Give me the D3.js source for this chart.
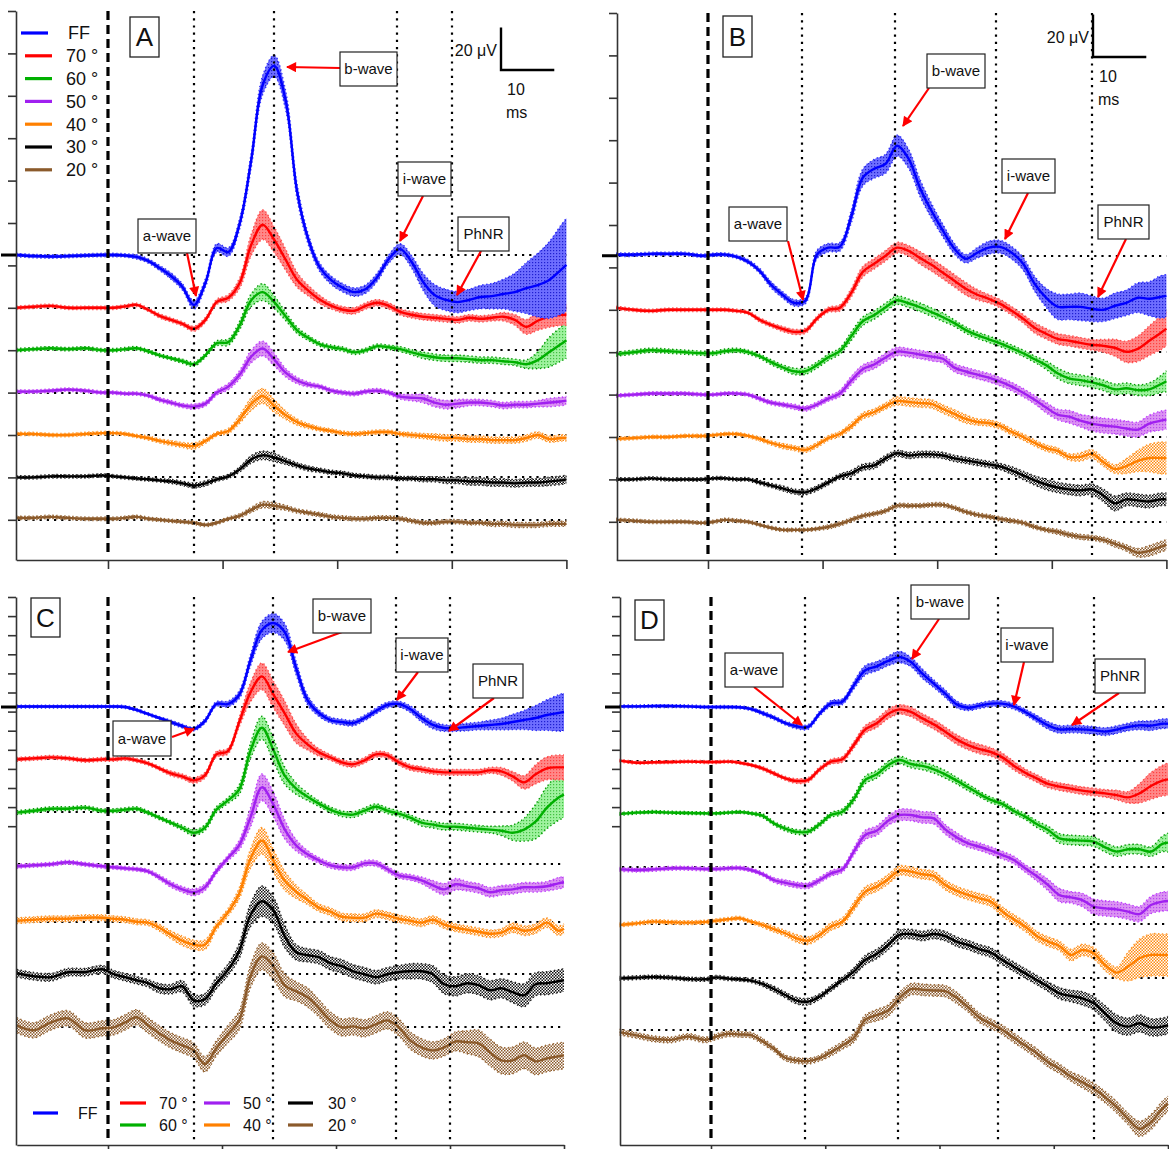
<!DOCTYPE html>
<html><head><meta charset="utf-8">
<script src="https://cdn.jsdelivr.net/npm/d3@7"></script>
<style>
html,body{margin:0;padding:0;background:#fff;}
svg{display:block;}
svg text{font-family:"Liberation Sans",Arial,Helvetica,sans-serif;fill:#111;}
</style></head><body>
<svg id="chart" width="1169" height="1149"></svg>
<script>
// ---------- shared axes / labels ----------
const time = [-16,-13,-10,-7,-4,-1,
  1,3,5,7,9,11,13,15,17,19,
  21,23,25,27,29,31,33,35,37,39,
  41,43,45,47,49,51,53,55,57,59,
  61,63,65,67,69,71,73,75,77,79,
  80];
const seriesNames = ["FF","70 °","60 °","50 °","40 °","30 °","20 °"];
const xTickValues = [0,20,40,60,80];
const yTickValues = [0,-20,-40,-60,-80,-100,-120,-140,-160,-180,-200,-220,-240];
const markerTimesAC = [15,29,50.5,60];
const markerTimesBD = [16.4,32.7,50.3,67];
const waveLabels = ["a-wave","b-wave","i-wave","PhNR"];
const panelLetters = ["A","B","C","D"];

// ---------- Panel A (µV) ----------
const aFF = [0,-0.5,-0.7,-0.5,-0.2,0,
 0,-0.2,-0.9,-2.8,-6.1,-9.9,-15.1,-23.6,-13.2,3.3,
 1.4,15,44.8,80.2,89.2,73,30,7,-6,-12,
 -15.5,-17.5,-16,-10.4,-1.9,2.8,-3.3,-12.7,-18.9,-21.2,
 -22.2,-21.2,-19.8,-19.4,-18.4,-17.5,-15.6,-14.2,-11.8,-7.1,
 -4.7];
const aFFse = [0.8,0.8,0.8,0.8,0.8,0.8,
 0.8,0.8,1,1,1.2,1.5,1.5,2,2,2,
 2,2.5,3.5,4.5,5,4.5,3.5,2.5,2,2,
 2,2,2,2,2,2.5,3,4,5,5,
 5,5,5.5,6,7,9,12,15,18,21,
 22];
const a70 = [0,0.5,0.9,0,0,0,
 0,0.7,1.4,-0.9,-3.8,-5.7,-7.6,-9.9,-5.7,2.8,
 4.7,11.8,29.7,39.2,32.1,22.7,13.2,8,3.8,0.9,
 -0.9,-1.4,0.9,2.4,0.9,-1.9,-3.3,-4.2,-4.7,-5.2,
 -5.7,-4.7,-5.2,-4.7,-4.2,-5.7,-9,-6.1,-4.2,-3.3,
 -3.3];
const a70se = [0.8,0.8,0.8,0.8,0.8,0.8,
 0.8,0.8,0.8,0.8,1,1,1,1.2,1.2,1.2,
 1.5,2.5,5,7,6,5,3.5,2.5,2,1.5,
 1.5,1.5,1.5,1.5,1.5,1.5,1.5,1.5,1.5,1.5,
 1.5,1.5,1.5,1.5,2,2.5,3.5,4.5,5,5,
 5];
const a60 = [0,0.5,0.9,0.5,0.9,0,
 0,0.5,0.9,-0.5,-2.4,-3.8,-5.2,-6.6,-2.4,3.3,
 3.8,11.8,23.6,27.4,22.7,16,9.4,5.7,2.8,1.4,
 0.5,-1,0,1.9,1.4,0.5,-1,-2.4,-3.3,-3.8,
 -3.8,-4.2,-4.7,-4.7,-5.2,-5.7,-6.6,-4.7,-0.9,2.8,
 4.7];
const a60se = [0.8,0.8,0.8,0.8,0.8,0.8,
 0.8,0.8,0.8,0.8,0.8,0.8,1,1,1,1.2,
 1.5,2,3,4,3,2,1.5,1.2,1,1,
 1,1,1,1,1,1.2,1.2,1.5,1.5,1.5,
 1.5,1.5,1.5,1.5,1.5,1.5,2,4,7,8,
 8.5];
const a50 = [0.5,0.5,0.9,1.4,0.9,0,
 0,-0.5,-0.5,-1.4,-3.3,-4.7,-6.1,-6.6,-5.2,0,
 2.8,8.5,17,20.8,15.6,9.4,5.7,3.8,2.8,0.9,
 0,-0.5,0.5,0.9,0,-1.9,-2.4,-2.8,-4.7,-5.7,
 -5.2,-4.7,-4.7,-5.2,-6.1,-5.7,-5.7,-5.2,-4.7,-4.2,
 -3.8];
const a50se = [0.8,0.8,0.8,0.8,0.8,0.8,
 0.8,0.8,0.8,0.8,1,1,1,1.2,1.2,1.2,
 1.5,2,3,3.5,3,2,1.5,1.2,1,1,
 1,1,1,1,1,1.2,1.5,2,2,2,
 2,1.5,1.5,1.5,1.5,1.5,1.5,1.5,2,2,
 2];
const a40 = [0.5,0.5,0,0,0.5,0.9,
 0.9,0.5,-0.5,-1.4,-2.8,-3.8,-4.7,-5.2,-2.8,0.5,
 1.9,7.5,14.6,18.4,13.7,9.4,6.1,4.2,2.8,1.9,
 0.9,0.5,0.9,1.4,1.4,0.5,0,-0.5,-0.9,-1.4,
 -1.4,-1.9,-1.9,-2.4,-2.4,-2.4,-1.4,0,-1.9,-1.4,
 -1.4];
const a40se = [0.8,0.8,0.8,0.8,0.8,0.8,
 0.8,0.8,0.8,1,1,1.2,1.2,1.5,1.2,1,
 1.2,2,3,3.5,3,2,1.5,1.2,1,1,
 1,1,1,1,1,1,1.2,1.2,1.5,1.5,
 1.5,1.5,1.5,1.5,1.5,1.5,1.5,1.5,1.5,1.5,
 1.5];
const a30 = [0,0,0.5,0.5,0.5,0.9,
 0.5,0,-0.5,-0.9,-1.4,-1.9,-2.8,-3.8,-2.8,-0.9,
 0.5,3.8,8.5,10.4,9.4,7.6,5.7,4.2,3.3,2.4,
 1.9,0.9,0.5,0,0,-0.5,-0.5,-0.9,-0.9,-1.4,
 -1.4,-1.9,-1.9,-2.4,-2.4,-2.8,-2.4,-2.4,-1.9,-1.4,
 -0.9];
const a30se = [0.8,0.8,0.8,0.8,0.8,0.8,
 0.8,0.8,0.8,0.8,0.8,1,1,1.2,1.2,1,
 1,1.2,1.8,2,2,1.5,1.2,1.2,1,1,
 1,1,1,1,1,1,1,1.2,1.2,1.5,
 1.5,1.8,1.8,1.8,1.8,1.8,1.8,1.8,2,2,
 2];
const a20 = [0.9,0.9,1.4,0.9,0.5,0.5,
 0.5,0.9,1.4,0.5,0,-0.5,-0.9,-1.4,-2.4,-1.4,
 0.5,1.9,4.7,7.1,6.6,5.7,4.2,3.3,2.4,1.4,
 0.9,0.5,0.5,0.9,0.9,0.5,-0.5,-1.4,-1.4,-0.9,
 -0.9,-1.4,-1.4,-1.9,-1.9,-2.4,-2.4,-2.4,-1.9,-1.9,
 -1.9];
const a20se = [0.8,0.8,0.8,0.8,0.8,0.8,
 0.8,0.8,0.8,0.8,0.8,0.8,0.8,0.8,0.8,0.8,
 0.8,1,1.2,1.5,1.5,1.2,1,1,1,1,
 1,1,1,1,1,1,1,1,1,1,
 1,1,1,1.2,1.2,1.2,1.2,1.2,1.2,1.2,
 1.2];

// ---------- Panel B (µV) ----------
const bFF = [0.5,0.5,0.9,0.9,0.9,0,
 0.5,0.5,-0.5,-2.8,-7.1,-13.7,-18.4,-22.2,-21.2,0.5,
 3.8,4.2,18.4,36.8,41,43.4,51.9,45.8,32,21.2,
 11.8,3.3,-1.4,1.4,3.8,4.2,1.4,-3.8,-13.2,-19.8,
 -24,-24.1,-24.1,-25,-25.5,-23.6,-22.2,-19.8,-20.3,-19.4,
 -18.9];
const bFFse = [0.8,0.8,0.8,0.8,0.8,0.8,
 0.8,0.8,0.8,1,1.2,1.5,1.5,1.5,1.5,2,
 2,2,3,4,4.5,4.5,5,4.5,4,3.5,
 3,2.5,2,2.5,3,3,3,3,3.5,4.5,
 6,6,6.5,6,5.5,6,6,7,8,10,
 10];
const b70 = [0.9,0,-0.5,0,0,0,
 0,0,-0.5,-1.4,-4.7,-7.1,-9,-10.4,-9.9,-4.2,
 0,0.9,8,17.9,21.7,25.5,29.3,27.8,24.5,21.2,
 17.5,13.7,9.9,7.1,5.2,2.8,-0.5,-4.2,-8.5,-11.3,
 -13.7,-14.6,-15.6,-16.5,-17,-17.9,-19.8,-18.4,-14.6,-10.9,
 -8.9];
const b70se = [0.8,0.8,0.8,0.8,0.8,0.8,
 0.8,0.8,0.8,0.8,1,1,1.2,1.2,1.2,1.2,
 1.2,1.5,2,2.5,2.5,2.5,2.5,2.5,3,3,
 3,3,3,2.5,2,2,2,2,2.5,2.5,
 2.5,2.5,2.5,2.5,3,4,5,6,7,8,
 8];
const b60 = [-0.9,0,0.9,0.5,0,-0.5,
 -0.5,0.5,0.9,0,-1.9,-4.7,-7.1,-9,-9,-6.1,
 -2.4,0.5,7.5,14.6,17.5,21.2,24.5,23.1,21.2,18.9,
 16.5,13.7,10.4,8,6.1,4.2,1.9,-0.5,-3.3,-6.1,
 -9.9,-12.3,-13.2,-14.2,-15.6,-17.5,-17,-17.9,-17.5,-15.1,
 -13.7];
const b60se = [1,1,1,1,1,1,
 1,1,1,1,1,1.2,1.2,1.5,1.5,1.5,
 1.5,1.5,2,2,2,2,2,2,2,2,
 2,1.5,1.5,1.5,1.5,1.5,1.5,1.5,1.5,2,
 2.5,2.5,2.5,2.5,2.5,2.5,2.5,2.5,3,4,
 5];
const b50 = [-0.5,0,0.5,0.5,0.5,0,
 0,0.5,0.5,0,-1.9,-3.8,-4.7,-5.7,-6.6,-4.7,
 -1.9,0.5,6.6,12,14.2,17.5,20.3,19.8,18.9,17.9,
 16.9,12.7,10.9,9.4,8,6.1,3.8,0.9,-2.4,-6.1,
 -9.4,-10.4,-12.3,-13.7,-14.6,-15.1,-16,-16.5,-13.7,-12.3,
 -11.8];
const b50se = [0.8,0.8,0.8,0.8,0.8,0.8,
 0.8,0.8,0.8,0.8,1,1,1,1.2,1.2,1.2,
 1.2,1.5,2,2,2,2,2,2,2,2,
 2,2,2,2,2,2,2,2,2,2.5,
 2.5,3,3,3.5,3.5,3.5,3.5,3.5,4,4.5,
 4.5];
const b40 = [-0.9,-0.5,0,0,0.5,0.5,
 0.9,1.4,1.4,0.5,-0.9,-2.8,-4.2,-5.2,-6.1,-3.8,
 -0.5,1.4,5.2,9.9,11.8,14.6,17,16.5,16,15.6,
 13.2,10.9,8.5,7.1,6.6,5.2,2.4,0,-2.8,-5.2,
 -6.6,-9.4,-9.4,-8,-11.8,-15.1,-13.7,-11.3,-9.9,-9.9,
 -9.9];
const b40se = [0.8,0.8,0.8,0.8,0.8,0.8,
 0.8,0.8,0.8,0.8,1,1,1.2,1.2,1.2,1.2,
 1.2,1.2,1.5,1.5,1.5,1.5,2,2,2,2,
 2,2,2,1.5,1.5,1.5,1.5,1.5,1.5,1.5,
 1.5,1.5,2,2,2,2,3.5,5,6.5,7.5,
 7.5];
const b30 = [0,0,0.5,0,0,0,
 0.5,0.5,0,0,-1.4,-2.8,-4.2,-5.7,-6.1,-4.2,
 -1.4,1.4,2.8,5.7,6.6,9.9,12.3,11.3,11.8,11.8,
 11.3,9.9,9,8,7.1,6.1,4.2,1.9,-0.5,-2.4,
 -3.8,-4.7,-5.2,-4.7,-7.6,-11.3,-9.4,-9.9,-10.4,-9.4,
 -9.4];
const b30se = [0.8,0.8,0.8,0.8,0.8,0.8,
 0.8,0.8,0.8,0.8,1,1,1.2,1.2,1.2,1.2,
 1.2,1.2,1.5,1.5,1.5,1.5,1.5,1.5,1.5,1.5,
 1.5,1.5,1.5,1.5,1.5,1.5,1.8,2,2.2,2.5,
 2.5,2.5,2.5,2.5,3,3.5,3,3,3,3,
 3];
const b20 = [0.9,0.5,0,0,0,-0.5,
 0,0.9,0.5,0,-1.4,-2.8,-3.8,-3.8,-3.8,-3.3,
 -2.4,-1,0.9,2.8,3.8,5.2,7.6,7.6,7.6,8,
 8,6.6,4.7,3.3,2.4,1.4,0.5,-0.5,-2.4,-3.8,
 -4.7,-6.1,-7.1,-7.6,-8.5,-10.4,-12.3,-14.6,-13.7,-11.8,
 -10.9];
const b20se = [0.8,0.8,0.8,0.8,0.8,0.8,
 0.8,0.8,0.8,0.8,0.8,0.8,0.8,0.8,0.8,0.8,
 1,1,1,1,1,1,1,1,1,1,
 1,1,1,1,1,1,1,1,1,1,
 1.2,1.2,1.2,1.2,1.2,1.5,1.5,2,2.5,2.5,
 2.5];

// ---------- Panel C (µV) ----------
const cFF = [0.5,0.5,0.5,0.5,0.5,0.5,
 0.5,0,-3.1,-7.3,-11.5,-15.7,-19.9,-23,-14.7,3.1,
 3.1,12.6,49,80.6,88,78.5,40.8,7.3,-6.3,-13.6,
 -15.7,-16.8,-11.5,-4.2,2.1,3.1,-2.1,-11.5,-18.8,-22,
 -22,-20.9,-19.9,-18.8,-17.8,-15.7,-13.6,-11.5,-8.4,-6.3,
 -5.2];
const cFFse = [1.5,1.5,1.5,1.5,1.5,1.5,
 1.5,1.5,1.5,1.5,1.5,2,2,2,2.5,2.5,
 3,4,6,9,10,9,7,5,3.5,3,
 3,3,3,3,3,3,3.5,4,4,3.5,
 3.5,4,4,5,6,8,10,13,16,19,
 20];
const c70 = [0,1,2.1,1,-1,0,
 0,1,-1,-4.2,-9.4,-14.7,-17.8,-22,-16.8,5.2,
 8.4,38.7,70.2,86.9,68,48.2,27.2,15.7,7.3,2.1,
 -3.1,-5.2,-1,5.2,4.2,-3.1,-8.4,-10.5,-12.6,-13.6,
 -13.6,-13.6,-13.6,-11.5,-12.6,-17.8,-24.1,-15.7,-9.4,-8.4,
 -8.4];
const c70se = [2,2,2,2,2,2,
 2,2,2,2,2,2.5,2.5,3,3,3,
 3,5,10,14,14,13,10,6,4,3,
 3,3,3,3,3,3,3,3,3,3,
 3,3,3,3,4,5,7,10,12,13,
 13];
const c60 = [-1,1,3.1,3.1,4.2,1,
 1,2.1,3.1,-1,-6.3,-11.5,-16.8,-22,-16.8,2.1,
 11.5,23,63.9,87.9,64.9,37.7,24.1,15.7,8.4,2.1,
 -2.1,-3.1,1,5.2,1,-2.1,-6.3,-11.5,-13.6,-15.7,
 -15.7,-16.8,-17.8,-18.8,-19.9,-22,-18.8,-10.5,4.2,14.7,
 17.8];
const c60se = [2,2,2,2,2,2,
 2,2,2,2,2,2,2.5,3,3,3,
 3,5,8,12,12,9,6,4,3,3,
 3,3,3,3,3,3,3,3.5,3.5,3.5,
 3.5,3.5,3.5,3.5,5,8,12,18,22,24,
 24];
const c50 = [-2.1,-1,0,2.1,0,-2.1,
 -3.1,-4.2,-5.2,-7.3,-13.6,-20.9,-26.2,-29.3,-24.1,-7.3,
 6.3,19.9,49.2,80.6,62.8,36.6,19.9,10.5,4.2,-1,
 -3.1,-3.1,1,1,-5.2,-11.5,-13.6,-16.8,-22,-26.2,
 -20.9,-23,-25.1,-29.3,-27.2,-26.2,-24.1,-24.1,-23,-19.9,
 -18.8];
const c50se = [2,2,2,2,2,2,
 2,2,2,2,2.5,3,3,3.5,3.5,3,
 3,5,10,14,13,10,6,4,3,3,
 3,3,3,3,3,3,3,3.5,5,6,
 6,5,5,5,5,5,5,5,5,6,
 6];
const c40 = [1,2.1,3.1,3.1,4.2,4.2,
 3.1,2.1,0,-1,-6.3,-13.6,-19.9,-24.1,-24.1,-5.2,
 9.4,29.3,66,84.8,63.9,42.9,31.4,23,14.7,10.5,
 5.2,4.2,4.2,8.4,6.3,3.1,1,-1,2.1,-3.1,
 -6.3,-8.4,-10.5,-12.6,-11.5,-6.3,-9.4,-7.3,-1,-9.4,
 -7.3];
const c40se = [3,3,3,3,3,3,
 3,3,3,3,3.5,4,5,5,5,4,
 4,6,10,14,12,10,7,5,4,4,
 4,4,4,4,4,4,4,4,4,4,
 4,4,4,4,4,5,5,5,5,5,
 5];
const c30 = [1,-2.1,-3.1,2.1,2.1,5.2,
 0,-3.1,-6.3,-9.4,-14.7,-15.7,-12.6,-27.2,-26.2,-9.4,
 4.2,24.1,61.8,76.4,67,39.8,23,19.9,17.8,11.5,
 8.4,3.1,0,-3.1,0,2.1,3.1,3.1,0,-10.5,
 -12.6,-9.4,-11.5,-16.8,-14.7,-18.8,-22,-10.5,-9.4,-7.3,
 -6.3];
const c30se = [4,4,4,4,4,4,
 4,4,4,4,5,5,6,6,6,6,
 6,8,12,16,14,12,8,7,7,7,
 7,7,7,7,7,7,8,8,9,10,
 10,10,10,10,10,11,12,12,12,12,
 12];
const c20 = [2.1,-3.1,5.2,9.4,-3.1,-1,
 0,5.2,10.5,2.1,-6.3,-13.6,-18.8,-24.1,-38.7,-22,
 -7.3,7.3,53.4,74.3,63.9,44,37.7,31.4,19.9,7.3,
 0,1,-1,3.1,7.3,0,-13.6,-20.9,-24.1,-20.9,
 -14.7,-15.7,-16.8,-26.2,-34.6,-34.6,-29.3,-35.6,-32.5,-30.4,
 -29.3];
const c20se = [8,8,8,8,8,8,
 8,8,8,8,8,8,8,8,8,8,
 9,10,12,14,14,12,10,10,9,9,
 9,9,9,9,9,9,9,9,9,9,
 10,12,14,14,14,14,14,14,14,14,
 14];

// ---------- Panel D (µV) ----------
const dFF = [0.7,0.7,1,1,0.7,0,
 0,0,-0.3,-2.1,-6.3,-11.2,-16.8,-20.2,-20.9,-7,
 3.8,5.6,22.7,38.4,42.6,48.2,52.4,47.1,34.9,24.4,
 14,2.8,-0.7,1.4,3.5,3.5,0.7,-5.2,-12.2,-19.2,
 -23.4,-23,-23.4,-24.4,-25.8,-23.7,-20.9,-19.2,-19.5,-17.5,
 -17.5];
const dFFse = [1.5,1.5,1.5,1.5,1.5,1.5,
 1.5,1.5,1.5,1.5,2,2,2,2.5,2.5,2.5,
 3,3,4,5,5,5,6,5,5,4,
 4,3.5,3,3,3,3,3,3,3.5,4,
 4,4,4,4,4,4,4,4.5,5,5,
 5];
const d70 = [0,-2.1,-1.7,-1.4,-1,-1.4,
 -1.4,-1,-2.1,-4.5,-8,-13.3,-18.5,-21.3,-20.2,-9.1,
 -1,1.4,16.4,32.8,39.1,48.9,53.7,51,44.3,38,
 30.4,22.3,16.4,12.2,9.1,3.5,-5.2,-12.6,-18.5,-24.4,
 -27.2,-29.3,-31.4,-32.8,-34.2,-36,-38.4,-34.2,-26.5,-20.9,
 -19.5];
const d70se = [1.5,1.5,1.5,1.5,1.5,1.5,
 1.5,1.5,1.5,1.5,2,2,2,2.5,2.5,2.5,
 2.5,3,3.5,4,4.5,5,5,5,5,5,
 5,5,5,5,4.5,4.5,4.5,4,4,4,
 4,4,4,4,4,5,6,10,14,16,
 17];
const d60 = [-0.7,0.7,1.4,0.7,0.3,0,
 0,0.7,1.4,0,-2.4,-10.5,-16,-19.5,-19.2,-11.5,
 -1.7,1.7,15,34.9,40.8,50.3,55.8,51.6,49.6,46.1,
 40.8,34.2,27.2,20.2,14,9.8,2.4,-3.5,-11.2,-17.5,
 -26.2,-27.9,-28.6,-29.7,-35.6,-40.1,-37.7,-37.7,-40.1,-32.1,
 -30.7];
const d60se = [1.5,1.5,1.5,1.5,1.5,1.5,
 1.5,1.5,1.5,1.5,2,2,2.5,2.5,2.5,2.5,
 2.5,3,3.5,4,4,4,4,4,4,4,
 4,3.5,3.5,3,3,3,3,3,3.5,4,
 5,5,5,5,5,5,5,5,5,8,
 10];
const d50 = [-2.8,-3.5,-2.8,-1.7,-1.7,-2.4,
 -2.4,-1.7,-1.4,-3.5,-7.7,-14,-16.8,-19.2,-19.9,-14,
 -7,-2.8,15.7,33.2,37.7,48.2,54.1,54.1,51.6,50.6,
 39.1,30.7,24.4,20.9,16.8,12.2,7,-1.7,-9.8,-19.2,
 -29.7,-32.1,-34.9,-41.9,-43.6,-44.7,-47.1,-49.6,-40.1,-36.6,
 -35.9];
const d50se = [2,2,2,2,2,2,
 2,2,2,2,2,2.5,3,3,3,3,
 3,3,4,5,5,5,6,6,6,6,
 5,5,4,4,4,4,4,4,5,6,
 7,6,7,8,8,8,8,8,9,10,
 10];
const d40 = [-0.7,1,2.8,2.1,1.7,2.4,
 3.8,5.2,6.3,2.8,-0.7,-5.2,-9.4,-14.7,-17.1,-11.2,
 -2.4,2.8,18.5,34.2,39.4,47.1,56.2,55.1,52.4,50.6,
 41.2,34.9,30.7,27.2,23.7,13.3,5.2,-2.4,-12.2,-18.1,
 -22.7,-32.1,-26.9,-30.4,-42.6,-50.6,-44.3,-35.6,-32.1,-32.1,
 -32.1];
const d40se = [2,2,2,2,2,2,
 2,2,2,2,2.5,3,3,4,4,4,
 4,4,4.5,5,5,5,5,5,5,5,
 5,5,5,5,5,5,5,5,5,5,
 5,6,6,6,6,6,15,20,22,22,
 22];
const d30 = [-0.7,0,0.7,0,-1.4,-1.7,
 0.3,-1,-1.7,-3.1,-6.6,-11.9,-18.1,-24.1,-25.1,-19.9,
 -11.2,-2.4,6.3,18.5,24.8,34.2,44.7,45.7,43.6,45.7,
 43.6,37.7,34.2,29.7,26.2,18.5,11.5,4.5,-2.4,-9.4,
 -16.4,-19.2,-21.6,-26.9,-37.3,-47.8,-51.3,-47.8,-52,-51.3,
 -49.6];
const d30se = [2,2,2,2,2,2,
 2,2,2,2,2.5,3,3,3.5,3.5,3,
 3,3,4,5,5,5,5,5,5,5,
 5,5,5,5,5,5,5,5,5,5,
 6,6,7,7,8,9,9,9,9,9,
 9];
const d20 = [-1.7,-5.2,-8.7,-9.8,-6.3,-9.8,
 -6.3,-3.5,-4.2,-4.9,-11.2,-19.2,-28.6,-31.4,-32.1,-29,
 -22.7,-15.7,-7.7,11.2,16,20.9,34.2,43.3,42.6,41.9,
 41.2,34.2,24.4,13.3,7,0.7,-7.7,-15.7,-23.7,-33.2,
 -40.1,-48.2,-54.1,-61.1,-69.8,-80.3,-92.5,-103,-96,-82,
 -76.8];
const d20se = [3,3,3,3,3,3,
 3,3,3,3,3,3,3,3,3,3,
 4,4,5,5,6,6,6,6,6,6,
 6,6,5,5,5,5,5,5,5,5,
 5,5,6,6,6,6,6,8,8,8,
 8];

// ---------- styles ----------
const lineColors = ["#0000ff","#ff0000","#00b000","#a020f0","#ff8000","#000000","#8b5a2b"];
const edgeColors = ["#3434ff","#ff5050","#009a00","#c040ff","#ff9a30","#222222","#9a6a3a"];

const svg = d3.select("#chart");
const defs = svg.append("defs");
function dotPattern(id, bg, dot){
  const p = defs.append("pattern").attr("id",id).attr("width",3).attr("height",3).attr("patternUnits","userSpaceOnUse");
  p.append("rect").attr("width",3).attr("height",3).attr("fill",bg);
  p.append("rect").attr("x",1).attr("y",1).attr("width",1.2).attr("height",1.2).attr("fill",dot);
}
function checkerPattern(id, col){
  const p = defs.append("pattern").attr("id",id).attr("width",3).attr("height",3).attr("patternUnits","userSpaceOnUse");
  p.append("rect").attr("width",3).attr("height",3).attr("fill","#ffffff");
  p.append("rect").attr("x",0).attr("y",0).attr("width",1.5).attr("height",1.5).attr("fill",col);
  p.append("rect").attr("x",1.5).attr("y",1.5).attr("width",1.5).attr("height",1.5).attr("fill",col);
}
dotPattern("pat0","#6e6eff","#1f1fd0");
dotPattern("pat1","#ff8888","#ff4040");
dotPattern("pat2","#9ff29f","#40c040");
dotPattern("pat3","#db92f3","#b848ee");
checkerPattern("pat4","#ff8a10");
checkerPattern("pat5","#111111");
checkerPattern("pat6","#8b5a2b");
const mk = defs.append("marker").attr("id","arrowhead").attr("viewBox","0 0 10 10")
  .attr("refX",9).attr("refY",5).attr("markerWidth",5).attr("markerHeight",4.6).attr("orient","auto");
mk.append("path").attr("d","M0,0 L10,5 L0,10 Z").attr("fill","#ff0000");

// ---------- panels layout ----------
const panels = [
 {xr:[16.3,566.4], axisX:16, top:11, bottom:560, k:2.12,
  offsets:[-115.1,-140,-160,-180,-200,-220,-240], marks:markerTimesAC,
  data:[[aFF,aFFse],[a70,a70se],[a60,a60se],[a50,a50se],[a40,a40se],[a30,a30se],[a20,a20se]],
  label:[130,17,29,40],
  ann:[[138,219,58,34,187,253,196,296],[340,52,57,34,340,68,287,67],[398,162,53,34,423,196,400,241],[458,217,51,34,481,251,457,295]]},
 {xr:[616.3,1166.4], axisX:617, top:13, bottom:560, k:2.12,
  offsets:[-114.5,-140,-160,-180,-200,-220,-240], marks:markerTimesBD,
  data:[[bFF,bFFse],[b70,b70se],[b60,b60se],[b50,b50se],[b40,b40se],[b30,b30se],[b20,b20se]],
  label:[723,16,29,41],
  ann:[[729,207,58,34,788,241,803,300],[927,54,58,34,929,88,903,126],[1002,159,53,34,1028,193,1005,239],[1098,205,51,34,1126,239,1098,297]]},
 {xr:[16.8,564], axisX:16, top:597, bottom:1145, k:0.955,
  offsets:[-115.2,-170,-224.8,-279.9,-340,-395,-450.6], marks:markerTimesAC,
  data:[[cFF,cFFse],[c70,c70se],[c60,c60se],[c50,c50se],[c40,c40se],[c30,c30se],[c20,c20se]],
  label:[31,598,29,39],
  ann:[[113,721,58,35,172,737,194,729],[313,599,58,34,342,632,288,652],[396,638,52,34,418,672,397,700],[473,664,50,34,494,698,449,731]]},
 {xr:[619.6,1168], axisX:620, top:597, bottom:1145, k:0.955,
  offsets:[-115.2,-171.4,-226.5,-282.4,-342.7,-398.6,-453.9], marks:markerTimesBD,
  data:[[dFF,dFFse],[d70,d70se],[d60,d60se],[d50,d50se],[d40,d40se],[d30,d30se],[d20,d20se]],
  label:[635,600,29,40],
  ann:[[725,653,58,34,754,687,802,725],[911,585,58,34,939,619,912,659],[1001,628,52,34,1024,662,1014,705],[1095,659,50,34,1119,693,1072,725]]}
];

const curve = d3.curveCatmullRom.alpha(0.5);

function drawTrace(g, x, y, off, vals, se, i){
  const pts = time.map((t,j)=>[t, vals[j], se[j]]);
  g.append("path").datum(pts)
    .attr("d", d3.area().x(d=>x(d[0])).y0(d=>y(off+d[1]-d[2])).y1(d=>y(off+d[1]+d[2])).curve(curve))
    .attr("fill",`url(#pat${i})`).attr("stroke","none");
  [1,-1].forEach(s=>{
    g.append("path").datum(pts)
      .attr("d", d3.line().x(d=>x(d[0])).y(d=>y(off+d[1]+s*d[2])).curve(curve))
      .attr("fill","none").attr("stroke",edgeColors[i]).attr("stroke-width",1.4)
      .attr("stroke-dasharray","1.4,2.6");
  });
  g.append("path").datum(pts)
    .attr("d", d3.line().x(d=>x(d[0])).y(d=>y(off+d[1])).curve(curve))
    .attr("fill","none").attr("stroke",lineColors[i]).attr("stroke-width",2.4)
    .attr("stroke-linejoin","round");
}

panels.forEach((p,pi)=>{
  const g = svg.append("g");
  const x = d3.scaleLinear().domain([-16,80]).range(p.xr);
  const y = d3.scaleLinear().domain([-(p.bottom-p.top)/p.k,0]).range([p.bottom,p.top]);
  // baseline dotted lines
  p.offsets.forEach(o=>{
    const yy = Math.round(y(o));
    g.append("line").attr("x1",p.axisX+2).attr("x2",p.xr[1]).attr("y1",yy).attr("y2",yy)
      .attr("stroke","#000").attr("stroke-width",2.2).attr("stroke-dasharray","2.2,5");
  });
  // traces (FF on top)
  for(let i=6;i>=0;i--) drawTrace(g,x,y,p.offsets[i],p.data[i][0],p.data[i][1],i);
  // vertical marker lines
  p.marks.forEach(t=>{
    const xx = Math.round(x(t));
    g.append("line").attr("x1",xx).attr("x2",xx).attr("y1",p.top).attr("y2",p.bottom-5)
      .attr("stroke","#000").attr("stroke-width",2.2).attr("stroke-dasharray","2.2,5");
  });
  // flash (dashed) line
  g.append("line").attr("x1",x(0)).attr("x2",x(0)).attr("y1",p.top).attr("y2",p.bottom-6)
    .attr("stroke","#000").attr("stroke-width",3.2).attr("stroke-dasharray","9,5");
  // axes
  const ay = g.append("g").attr("transform",`translate(${p.axisX},0)`)
    .call(d3.axisLeft(y).tickValues(yTickValues).tickSize(8).tickSizeOuter(0).tickFormat(""));
  const ax = g.append("g").attr("transform",`translate(0,${p.bottom})`)
    .call(d3.axisBottom(x).tickValues(xTickValues).tickSize(9).tickSizeOuter(0).tickFormat(""));
  [ay,ax].forEach(a=>{a.selectAll("path,line").attr("stroke","#333").attr("stroke-width",1.6);});
  g.append("line").attr("x1",p.axisX-15).attr("x2",p.axisX).attr("y1",y(p.offsets[0])).attr("y2",y(p.offsets[0]))
    .attr("stroke","#000").attr("stroke-width",3);
  // annotations
  p.ann.forEach((a,ai)=>{
    g.append("line").attr("x1",a[4]).attr("y1",a[5]).attr("x2",a[6]).attr("y2",a[7])
      .attr("stroke","#ff0000").attr("stroke-width",2.2).attr("marker-end","url(#arrowhead)");
    g.append("rect").attr("x",a[0]).attr("y",a[1]).attr("width",a[2]).attr("height",a[3])
      .attr("fill","#fff").attr("stroke","#222").attr("stroke-width",1.2);
    g.append("text").attr("x",a[0]+a[2]/2).attr("y",a[1]+a[3]/2).attr("dy","0.36em")
      .attr("text-anchor","middle").attr("font-size",15).text(waveLabels[ai]);
  });
  // panel letter
  const L = p.label;
  g.append("rect").attr("x",L[0]).attr("y",L[1]).attr("width",L[2]).attr("height",L[3])
    .attr("fill","#fff").attr("stroke","#222").attr("stroke-width",1.3);
  g.append("text").attr("x",L[0]+L[2]/2).attr("y",L[1]+L[3]/2).attr("dy","0.36em")
    .attr("text-anchor","middle").attr("font-size",26).text(panelLetters[pi]);
  // scale bars (A and B): 20 µV vertical, 10 ms horizontal, corner at bottom-left
  if(pi<2){
    const sx = pi===0 ? 501 : 1093, sy = pi===0 ? 70 : 57;
    const hLen = (x(10)-x(0))*0.93, vLen = (y(20)-y(0));
    g.append("path").attr("d",`M${sx},${sy+vLen}L${sx},${sy}L${sx+hLen},${sy}`)
      .attr("fill","none").attr("stroke","#000").attr("stroke-width",2.4);
    g.append("text").attr("x",sx-4).attr("y",pi===0?56:43).attr("text-anchor","end").attr("font-size",16).text("20 μV");
    g.append("text").attr("x",sx+6).attr("y",sy+25).attr("font-size",16).text("10");
    g.append("text").attr("x",sx+5).attr("y",sy+48).attr("font-size",16).text("ms");
  }
});

// ---------- legends ----------
const legA = svg.append("g");
seriesNames.forEach((n,i)=>{
  const yy = 33 + i*22.8;
  const x1 = i===0 ? 21 : 25, x2 = i===0 ? 48 : 52;
  legA.append("line").attr("x1",x1).attr("x2",x2).attr("y1",yy).attr("y2",yy)
    .attr("stroke",lineColors[i]).attr("stroke-width",3.2);
  legA.append("text").attr("x",i===0?68:66).attr("y",yy).attr("dy","0.36em").attr("font-size",18).text(n);
});
const legC = svg.append("g");
const legPos = [[33,58,1113,78],[120,146,1103,159],[120,146,1125,159],[204,230,1103,243],[204,230,1125,243],[288,313,1103,328],[288,313,1125,328]];
seriesNames.forEach((n,i)=>{
  const q = legPos[i];
  legC.append("line").attr("x1",q[0]).attr("x2",q[1]).attr("y1",q[2]).attr("y2",q[2])
    .attr("stroke",lineColors[i]).attr("stroke-width",3.2);
  legC.append("text").attr("x",q[3]).attr("y",q[2]).attr("dy","0.36em").attr("font-size",16).text(n);
});

// sanity check of array lengths
const all = {aFF,aFFse,a70,a70se,a60,a60se,a50,a50se,a40,a40se,a30,a30se,a20,a20se,
 bFF,bFFse,b70,b70se,b60,b60se,b50,b50se,b40,b40se,b30,b30se,b20,b20se,
 cFF,cFFse,c70,c70se,c60,c60se,c50,c50se,c40,c40se,c30,c30se,c20,c20se,
 dFF,dFFse,d70,d70se,d60,d60se,d50,d50se,d40,d40se,d30,d30se,d20,d20se};
const bad = Object.entries(all).filter(([k,v])=>v.length!==time.length).map(([k,v])=>k+":"+v.length);
if(bad.length){ svg.append("text").attr("x",300).attr("y",580).attr("fill","red").text("LEN "+bad.join(" ")); }
</script>
</body></html>
